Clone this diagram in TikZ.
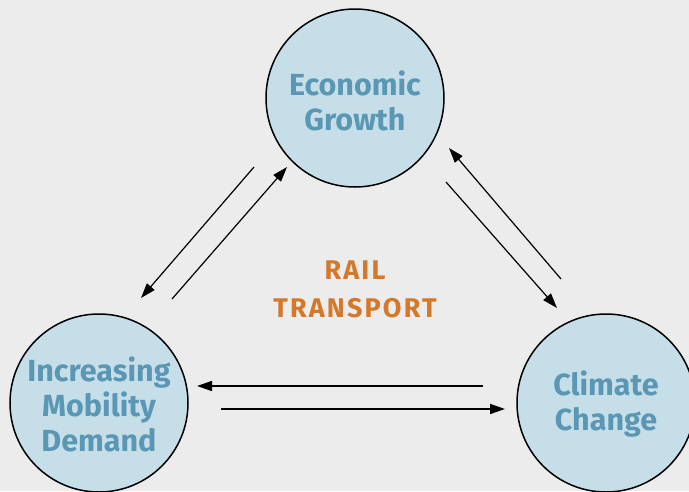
\documentclass[tikz,border=0pt]{standalone}
\usepackage{fontspec}
\setmainfont{Fira Sans}
\newfontfamily\railfont[LetterSpace=8]{Fira Sans}
\usetikzlibrary{arrows.meta}
\definecolor{bg}{HTML}{ECECEC}
\definecolor{circfill}{HTML}{C5DEE7}
\definecolor{circtext}{HTML}{5A97B5}
\definecolor{railorange}{HTML}{D4782A}
\tikzset{
  circnode/.style={circle, draw=black, line width=1.5pt, fill=circfill,
    minimum size=178pt, inner sep=0pt},
  circlabel/.style={align=center, text=circtext, inner sep=0pt,
    font=\bfseries\fontsize{30.5}{35}\selectfont},
  railtext/.style={align=center, text=railorange,
    font=\railfont\bfseries\fontsize{27}{38}\selectfont},
  arr/.style={line width=1.2pt, -{Triangle[length=15pt,width=10pt]}},
}
\begin{document}
\begin{tikzpicture}[x=1pt,y=-1pt]
\fill[bg] (0,0) rectangle (689,491);
\useasboundingbox (0,0) rectangle (689,491);
\begin{scope}
\clip (0,0) rectangle (689,491);
\node[circnode] (eg) at (355,98) {};
\node[circnode] (imd) at (99,403) {};
\node[circnode] (cc) at (606,403) {};
\end{scope}
\node[circlabel] (egt) at ([yshift=-3pt]eg.center) {Economic\\Growth};
\node[circlabel] (imdt) at ([yshift=-1pt]imd.center) {Increasing\\Mobility\\Demand};
\node[circlabel] (cct) at ([yshift=-1pt]cc.center) {Climate\\Change};
\node[railtext] (rail) at (355,289) {RAIL\\TRANSPORT};
% free-end coordinates
\coordinate (a1s) at (254,167); \coordinate (a1e) at (141,298);
\coordinate (a2s) at (172,299); \coordinate (a2e) at (287,167);
\coordinate (b1s) at (561,279); \coordinate (b1e) at (449,148);
\coordinate (b2s) at (446,182); \coordinate (b2e) at (557,308);
\coordinate (c1s) at (483,386); \coordinate (c1e) at (197,386);
\coordinate (c2s) at (221,409); \coordinate (c2e) at (505,409);
\draw[arr] (a1s) -- (a1e);
\draw[arr] (a2s) -- (a2e);
\draw[arr] (b1s) -- (b1e);
\draw[arr] (b2s) -- (b2e);
\draw[arr, line width=1.5pt] (c1s) -- (c1e);
\draw[arr, line width=1.5pt] (c2s) -- (c2e);
\end{tikzpicture}
\end{document}
